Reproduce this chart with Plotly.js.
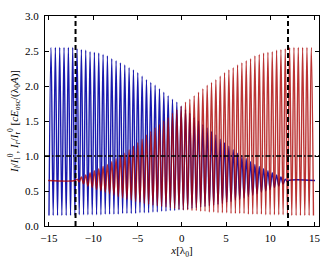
<!DOCTYPE html>
<html>
<head>
<meta charset="utf-8">
<script src="https://cdn.plot.ly/plotly-3.0.1.min.js"></script>
<style>html,body{margin:0;padding:0;background:#fff;}#chart{width:333px;height:267px;}</style>
</head>
<body>
<div id="chart"></div>
<script>
// x positions of the intensity maxima and minima (in units of lambda_0)
const xPeak = [-14.77,-14.28,-13.79,-13.30,-12.81,-12.32,-11.83,-11.34,-10.85,-10.36,-9.87,-9.38,-8.89,-8.40,-7.91,-7.42,-6.93,-6.44,-5.95,-5.46,-4.97,-4.48,-3.99,-3.50,-3.01,-2.52,-2.03,-1.54,-1.05,-0.56,-0.07,0.42,0.91,1.40,1.89,2.38,2.87,3.36,3.85,4.34,4.83,5.32,5.81,6.30,6.79,7.28,7.77,8.26,8.75,9.24,9.73,10.22,10.71,11.20,11.69,12.18,12.67,13.16,13.65,14.14,14.63];
const xTrough = [-14.525,-14.035,-13.545,-13.055,-12.565,-12.075,-11.585,-11.095,-10.605,-10.115,-9.625,-9.135,-8.645,-8.155,-7.665,-7.175,-6.685,-6.195,-5.705,-5.215,-4.725,-4.235,-3.745,-3.255,-2.765,-2.275,-1.785,-1.295,-0.805,-0.315,0.175,0.665,1.155,1.645,2.135,2.625,3.115,3.605,4.095,4.585,5.075,5.565,6.055,6.545,7.035,7.525,8.015,8.505,8.995,9.485,9.975,10.465,10.955,11.445,11.935,12.425,12.915,13.405,13.895,14.385,14.875];

// I_l (blue): maxima / minima for peaks 0..54, then transmitted flat level
const blueStart = [-15.0, 0.15];
const bluePeak = [2.55,2.55,2.55,2.55,2.55,2.55,2.53,2.52,2.51,2.49,2.48,2.47,2.45,2.43,2.39,2.36,2.33,2.30,2.26,2.23,2.19,2.14,2.09,2.05,2.01,1.96,1.91,1.86,1.81,1.77,1.71,1.66,1.61,1.55,1.50,1.45,1.40,1.35,1.30,1.24,1.19,1.14,1.09,1.04,1.00,0.96,0.92,0.88,0.85,0.82,0.79,0.76,0.73,0.70,0.67];
const blueTrough = [0.15,0.15,0.15,0.15,0.15,0.15,0.16,0.16,0.16,0.16,0.16,0.16,0.17,0.17,0.17,0.17,0.18,0.18,0.18,0.18,0.19,0.19,0.19,0.20,0.20,0.21,0.21,0.22,0.22,0.23,0.23,0.24,0.25,0.26,0.27,0.28,0.29,0.30,0.31,0.32,0.34,0.35,0.37,0.38,0.40,0.42,0.44,0.46,0.48,0.50,0.52,0.55,0.57,0.60,0.63];
const blueFlatX = [12.05, 15.05];
const blueFlatY = [0.65, 0.65];

// I_r (red): transmitted flat level, then maxima / minima for peaks 6..60
const redFlatX = [-15.1, -12.05];
const redFlatY = [0.65, 0.65];
const redFirst = 6;
const redPeak = [0.67,0.70,0.73,0.76,0.79,0.82,0.85,0.88,0.92,0.96,1.00,1.04,1.09,1.14,1.19,1.24,1.30,1.35,1.40,1.45,1.50,1.55,1.61,1.66,1.71,1.77,1.81,1.86,1.91,1.96,2.01,2.05,2.09,2.14,2.19,2.23,2.26,2.30,2.33,2.36,2.39,2.43,2.45,2.47,2.48,2.49,2.51,2.52,2.53,2.55,2.55,2.55,2.55,2.55,2.55];
const redTrough = [0.63,0.60,0.57,0.55,0.52,0.50,0.48,0.46,0.44,0.42,0.40,0.38,0.37,0.35,0.34,0.32,0.31,0.30,0.29,0.28,0.27,0.26,0.25,0.24,0.23,0.23,0.22,0.22,0.21,0.21,0.20,0.20,0.19,0.19,0.19,0.18,0.18,0.18,0.18,0.17,0.17,0.17,0.17,0.16,0.16,0.16,0.16,0.16,0.16,0.15,0.15,0.15,0.15,0.15,0.15];

const vLines = [-12, 12];
const hLine = 1.0;
const xTicks = [-15, -10, -5, 0, 5, 10, 15];
const yTicks = [0, 0.5, 1.0, 1.5, 2.0, 2.5, 3.0];

// assemble traces
const bx = [blueStart[0]], by = [blueStart[1]];
for (let k = 0; k < bluePeak.length; k++) {
  bx.push(xPeak[k]); by.push(bluePeak[k]);
  bx.push(xTrough[k]); by.push(blueTrough[k]);
}
bx.push(...blueFlatX); by.push(...blueFlatY);

const rx = [...redFlatX], ry = [...redFlatY];
for (let j = 0; j < redPeak.length; j++) {
  rx.push(xPeak[redFirst + j]); ry.push(redPeak[j]);
  rx.push(xTrough[redFirst + j]); ry.push(redTrough[j]);
}

const font = {family: 'Liberation Serif, serif', size: 11, color: '#000'};

const traces = [
  {x: bx, y: by, mode: 'lines', line: {color: 'rgb(0,0,165)', width: 1.4, shape: 'spline', smoothing: 1}, opacity: 0.9, hoverinfo: 'skip'},
  {x: rx, y: ry, mode: 'lines', line: {color: 'rgb(170,0,0)', width: 1.4, shape: 'spline', smoothing: 1}, opacity: 0.8, hoverinfo: 'skip'}
];

const shapes = vLines.map(v => ({type: 'line', xref: 'x', yref: 'paper', x0: v, x1: v, y0: 0, y1: 1,
  line: {color: '#000', width: 2, dash: '5px,3px'}}));
shapes.push({type: 'line', xref: 'paper', yref: 'y', x0: 0, x1: 1, y0: hLine, y1: hLine,
  line: {color: '#000', width: 1.5, dash: '5px,2px,1.5px,2px'}});

const layout = {
  width: 333, height: 267,
  margin: {l: 45, r: 14, t: 16, b: 41},
  paper_bgcolor: '#fff', plot_bgcolor: '#fff',
  showlegend: false,
  font: font,
  xaxis: {
    range: [-15.45, 15.5], tickvals: xTicks, ticktext: xTicks.map(v => v < 0 ? '\u2212' + Math.abs(v) : String(v)),
    ticks: 'inside', ticklen: 4, tickwidth: 1, tickcolor: '#000',
    showline: true, linecolor: '#000', linewidth: 1, mirror: 'ticks',
    showgrid: false, zeroline: false, ticklabelstandoff: 2,
    title: {text: '<i>x</i>[λ<sub>0</sub>]', font: font, standoff: 2}
  },
  yaxis: {
    range: [0, 3.0], tickvals: yTicks, tickformat: '.1f',
    ticks: 'inside', ticklen: 4, tickwidth: 1, tickcolor: '#000',
    showline: true, linecolor: '#000', linewidth: 1, mirror: 'ticks',
    showgrid: false, zeroline: false, ticklabelstandoff: 3,
    title: {text: '<i>I<sub>l</sub></i>/<i>I</i><sub>l</sub><sup>0</sup>, <i>I<sub>r</sub></i>/<i>I</i><sub>r</sub><sup>0</sup> [<i>cE</i><sub>osc</sub>/(λ<sub>0</sub><i>A</i>)]', font: font, standoff: 4}
  },
  shapes: shapes
};

Plotly.newPlot('chart', traces, layout, {staticPlot: true, displayModeBar: false});
</script>
</body>
</html>
